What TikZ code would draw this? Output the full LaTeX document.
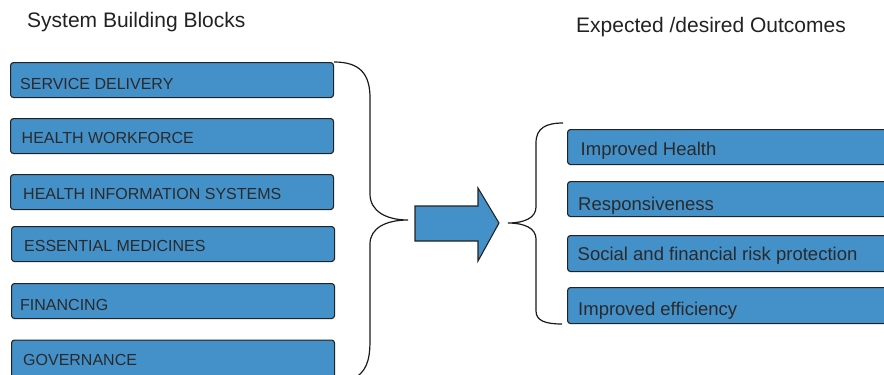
\documentclass[tikz,border=0pt]{standalone}
\usepackage{fontspec}
\setmainfont{Liberation Sans}
\begin{document}
\begin{tikzpicture}[x=1pt,y=-1pt,
  boxstyle/.style={draw=boxline,fill=boxfill,line width=1.1pt,rounded corners=3pt,
    anchor=north west,inner sep=0pt,minimum height=35pt},
  lbox/.style={boxstyle,minimum width=323pt},
  rbox/.style={boxstyle,minimum width=340pt},
  ltxt/.style={anchor=base west,inner sep=0pt,text=txtcol,font=\fontsize{16}{18}\selectfont},
  rtxt/.style={anchor=base west,inner sep=0pt,text=txtcol,font=\fontsize{18.5}{21}\selectfont},
  ttl/.style={anchor=base west,inner sep=0pt,text=ttlcol,font=\fontsize{21}{24}\selectfont},
  brace/.style={draw=braceline,line width=1.2pt}]
\definecolor{boxfill}{HTML}{4490C9}
\definecolor{boxline}{HTML}{222222}
\definecolor{txtcol}{HTML}{2A2A2A}
\definecolor{ttlcol}{HTML}{222222}
\definecolor{braceline}{HTML}{1A1A1A}
\useasboundingbox (0,0) rectangle (884,375);

% titles
\node[ttl] (ttlL) at (27,27.3) {System Building Blocks};
\node[ttl] (ttlR) at (576,32.3) {Expected /desired Outcomes};

% left boxes
\node[lbox] (b1) at (10,62) {};
\node[lbox] (b2) at (10,118) {};
\node[lbox] (b3) at (10,174) {};
\node[lbox] (b4) at (11,226) {};
\node[lbox] (b5) at (11,283) {};
\node[lbox,minimum height=40pt] (b6) at (11,339.5) {};
\node[ltxt] (t1) at (20,89.3) {SERVICE DELIVERY};
\node[ltxt] (t2) at (21.5,143.3) {HEALTH WORKFORCE};
\node[ltxt] (t3) at (23,199.3) {HEALTH INFORMATION SYSTEMS};
\node[ltxt] (t4) at (24,251.7) {ESSENTIAL MEDICINES};
\node[ltxt] (t5) at (20,310.7) {FINANCING};
\node[ltxt] (t6) at (23,365.3) {GOVERNANCE};

% right boxes
\node[rbox] (r1) at (567,129) {};
\node[rbox] (r2) at (567,181) {};
\node[rbox,minimum height=36pt] (r3) at (567,235) {};
\node[rbox,minimum height=36pt] (r4) at (567,287) {};
\node[rtxt] (s1) at (580.5,155.7) {Improved Health};
\node[rtxt] (s2) at (578,210) {Responsiveness};
\node[rtxt] (s3) at (577.5,260) {Social and financial risk protection};
\node[rtxt] (s4) at (578,315) {Improved efficiency};

% left brace
\coordinate (lbtip) at (408,220);
\path[brace] (b1.north east) .. controls (360,62) and (370,74) .. (370,98)
  -- (370,194) .. controls (370,211) and (386,220) .. (lbtip)
  .. controls (386,220) and (370,228) .. (370,244)
  -- (370,340) .. controls (370,362) and (366,372) .. (352,380);

% arrow
\coordinate (arrtip) at (499,223);
\path[draw=boxline,fill=boxfill,line width=1.1pt]
  (415,206) -- (478,206) -- (478,188) -- (arrtip) -- (478,261) -- (478,241) -- (415,241) -- cycle;

% right brace
\coordinate (rbtip) at (508,223);
\path[brace] (563,123) .. controls (546,123) and (536,128) .. (536,143)
  -- (536,207) .. controls (536,218) and (524,223) .. (rbtip)
  .. controls (524,223) and (536,228) .. (536,239)
  -- (536,311) .. controls (536,321) and (546,324) .. (562,324);
\end{tikzpicture}
\end{document}
